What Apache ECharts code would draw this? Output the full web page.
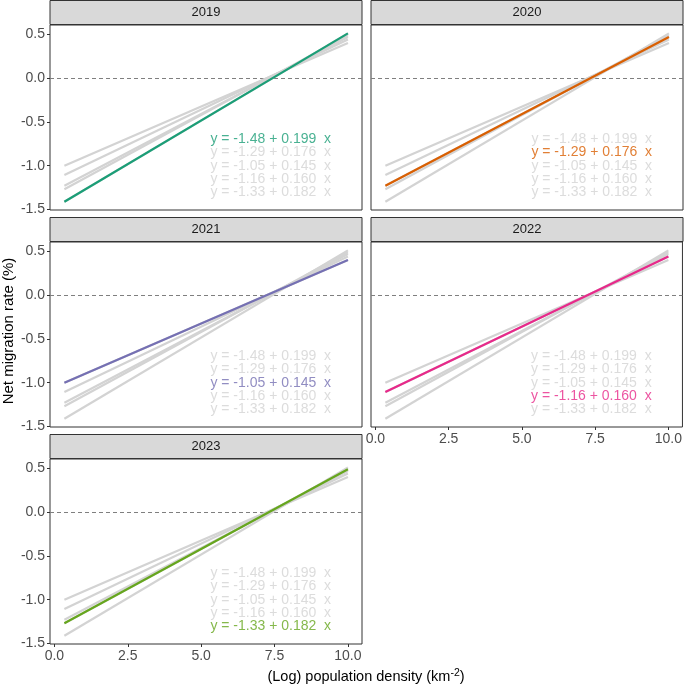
<!DOCTYPE html>
<html>
<head>
<meta charset="utf-8">
<script src="https://cdn.jsdelivr.net/npm/echarts@6/dist/echarts.min.js"></script>
<style>html,body{margin:0;padding:0;background:#fff}#c{width:685px;height:685px}</style>
</head>
<body>
<div id="c"></div>
<script>
// ---- data ----
const years = ['2019', '2020', '2021', '2022', '2023'];
const intercepts = [-1.48, -1.29, -1.05, -1.16, -1.33];
const slopes = [0.199, 0.176, 0.145, 0.160, 0.182];
const xRange = [0.34, 10.0];
const colors = ['#1B9E77', '#D95F02', '#7570B3', '#E7298A', '#66A61E'];
const xTicks = [0, 2.5, 5, 7.5, 10];
const yTicks = [-1.5, -1.0, -0.5, 0, 0.5];
const labelX = 7.37;
const labelY = [-0.7, -0.85, -1.0, -1.15, -1.3];

// ---- layout ----
const FONT = '"Liberation Sans", Arial, sans-serif';
const GRAY = '#D3D3D3';
const colLeft = [50, 371];
const rowTop = [25, 242, 459];
const PW = 312, PH = 185, SH = 24;
const panelPos = [[0, 0], [1, 0], [0, 1], [1, 1], [0, 2]];
const showX = [false, false, false, true, true];

const eqText = years.map((y, i) =>
  'y = ' + intercepts[i].toFixed(2) + ' + ' + slopes[i].toFixed(3) + '  x');

const grids = [], xAxes = [], yAxes = [], series = [], graphics = [];

years.forEach((yr, p) => {
  const [c, r] = panelPos[p];
  const left = colLeft[c], top = rowTop[r];
  grids.push({left: left, top: top, width: PW, height: PH, show: true,
    borderColor: '#333333', borderWidth: 1, backgroundColor: '#fff', containLabel: false});
  xAxes.push({type: 'value', gridIndex: p, min: -0.15, max: 10.48, position: 'bottom',
    axisLine: {show: false, onZero: false}, splitLine: {show: false},
    axisTick: {show: showX[p], length: 3, lineStyle: {color: '#333333'}, customValues: xTicks},
    axisLabel: {show: showX[p], customValues: xTicks, color: '#4D4D4D', fontSize: 14,
      fontFamily: FONT, margin: 5, formatter: v => v.toFixed(1)}});
  yAxes.push({type: 'value', gridIndex: p, min: -1.506, max: 0.606, position: 'left',
    axisLine: {show: false, onZero: false}, splitLine: {show: false},
    axisTick: {show: c === 0, length: 3, lineStyle: {color: '#333333'}, customValues: yTicks},
    axisLabel: {show: c === 0, customValues: yTicks, color: '#4D4D4D', fontSize: 14,
      fontFamily: FONT, margin: 5, formatter: v => v.toFixed(1)}});
  // gray lines
  years.forEach((y2, j) => {
    series.push({type: 'line', xAxisIndex: p, yAxisIndex: p, symbol: 'none', silent: true,
      lineStyle: {color: GRAY, width: 2.2}, z: 2,
      data: xRange.map(x => [x, intercepts[j] + slopes[j] * x])});
  });
  // highlighted line with zero reference
  series.push({type: 'line', xAxisIndex: p, yAxisIndex: p, symbol: 'none', silent: true,
    lineStyle: {color: colors[p], width: 2.2}, z: 4,
    data: xRange.map(x => [x, intercepts[p] + slopes[p] * x]),
    markLine: {silent: true, symbol: 'none', label: {show: false}, z: 1,
      lineStyle: {color: '#7F7F7F', width: 1, type: [4, 3]}, data: [{yAxis: 0}]}});
  // equation labels
  series.push({type: 'scatter', xAxisIndex: p, yAxisIndex: p, symbolSize: 0, silent: true, z: 5,
    data: years.map((y2, j) => ({value: [labelX, labelY[j]],
      label: {show: true, position: 'inside', formatter: eqText[j],
        color: j === p ? colors[p] : GRAY, fontSize: 14, fontFamily: FONT}}))});
  // strip
  graphics.push({type: 'rect', shape: {x: left, y: top - SH - 0.5, width: PW, height: SH},
    style: {fill: '#D9D9D9', stroke: '#333333', lineWidth: 1}, z: 10});
  graphics.push({type: 'text', x: left + PW / 2, y: top - SH / 2 - 0.5,
    style: {text: yr, fill: '#1A1A1A', fontSize: 13, fontFamily: FONT,
      align: 'center', verticalAlign: 'middle'}, z: 11});
});

graphics.push({type: 'text', x: 9, y: 331, rotation: Math.PI / 2,
  style: {text: 'Net migration rate (%)', fill: '#000', fontSize: 15, fontFamily: FONT,
    align: 'center', verticalAlign: 'middle'}});
graphics.push({type: 'text', x: 366, y: 677,
  style: {text: '{a|(Log) population density (km}{s|-2}{a|)}', fill: '#000',
    align: 'center', verticalAlign: 'middle',
    rich: {a: {fontSize: 14.5, fontFamily: FONT, fill: '#000'},
           s: {fontSize: 10.5, fontFamily: FONT, fill: '#000', verticalAlign: 'top', padding: [0, 0, 8, 0]}}}});

const chart = echarts.init(document.getElementById('c'), null, {renderer: 'canvas'});
chart.setOption({animation: false, backgroundColor: '#fff',
  grid: grids, xAxis: xAxes, yAxis: yAxes, series: series, graphic: graphics});
</script>
</body>
</html>
